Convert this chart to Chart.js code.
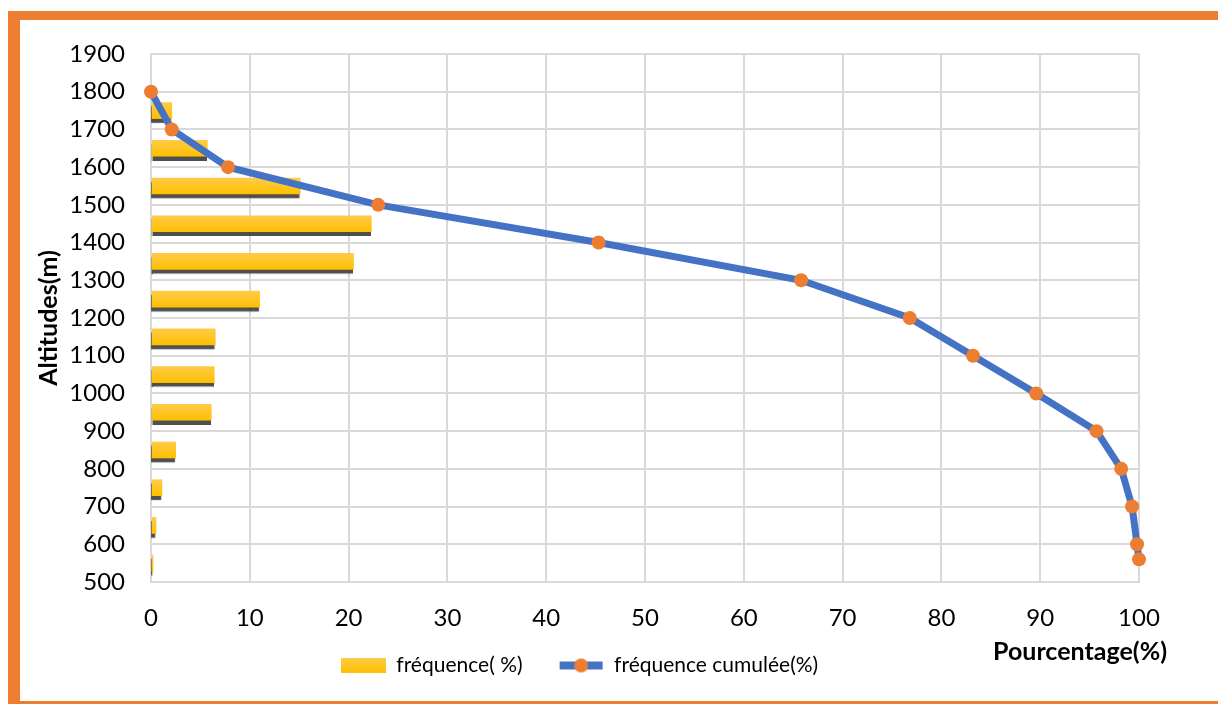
<!DOCTYPE html>
<html>
<head>
<meta charset="utf-8">
<title>Altitudes - fréquences</title>
<script src="https://cdn.jsdelivr.net/npm/chart.js@4.4.1/dist/chart.umd.min.js"></script>
<style>
  html, body { margin: 0; padding: 0; background: #ffffff; }
  #wrap { position: relative; width: 1218px; height: 704px; overflow: hidden; background: #ffffff; }
  .frame { position: absolute; background: #ED7D31; }
  #frameTop { left: 8px; top: 11px; width: 1210px; height: 9px; }
  #frameLeft { left: 8px; top: 11px; width: 12px; height: 693px; }
  #frameBottom { left: 8px; top: 701px; width: 1210px; height: 3px; }
  #box { position: absolute; left: 20px; top: 20px; width: 1198px; height: 681px; }
</style>
</head>
<body>
<div id="wrap">
  <div class="frame" id="frameTop"></div>
  <div class="frame" id="frameLeft"></div>
  <div class="frame" id="frameBottom"></div>
  <div id="box"><canvas id="chart" width="1198" height="681"></canvas></div>
</div>
<script>
// Tranches d'altitude (centre de chaque classe de 100 m) et fréquence (%)
const classAltitudes = [1750, 1650, 1550, 1450, 1350, 1250, 1150, 1050, 950, 850, 750, 650, 550];
const frequencies    = [2.1, 5.7, 15.1, 22.3, 20.5, 11.0, 6.5, 6.4, 6.1, 2.5, 1.1, 0.5, 0.2];

// Fréquence cumulée (%) aux limites de classe
const cumulAltitudes = [1800, 1700, 1600, 1500, 1400, 1300, 1200, 1100, 1000, 900, 800, 700, 600, 560];
const cumulValues    = [0, 2.1, 7.8, 23.0, 45.3, 65.8, 76.8, 83.2, 89.6, 95.7, 98.2, 99.3, 99.8, 100];

// Graduations
const altitudeTicks = [500, 600, 700, 800, 900, 1000, 1100, 1200, 1300, 1400, 1500, 1600, 1700, 1800, 1900];
const percentTicks  = [0, 10, 20, 30, 40, 50, 60, 70, 80, 90, 100];

const seriesLabels = ['fréquence( %)', 'fréquence cumulée(%)'];
const axisTitles = { x: 'Pourcentage(%)', y: 'Altitudes(m)' };

const FONT = 'Lato, Carlito, Calibri, "Open Sans", sans-serif';
const YELLOW_TOP = '#FFCB47';
const YELLOW_BOT = '#FFC000';
const BLUE = '#4472C4';
const ORANGE = '#ED7D31';
const GRID = '#D9D9D9';

// Legend symbols drawn on small canvases
function makeBarSymbol() {
  const c = document.createElement('canvas');
  c.width = 45; c.height = 15;
  const g = c.getContext('2d');
  const grad = g.createLinearGradient(0, 0, 0, 15);
  grad.addColorStop(0, YELLOW_TOP);
  grad.addColorStop(1, YELLOW_BOT);
  g.fillStyle = grad;
  g.fillRect(0, 0, 45, 15);
  return c;
}
function makeLineSymbol() {
  const c = document.createElement('canvas');
  c.width = 45; c.height = 16;
  const g = c.getContext('2d');
  g.fillStyle = BLUE;
  g.fillRect(1, 4, 43, 8);
  g.fillStyle = ORANGE;
  g.beginPath();
  g.arc(22.5, 8, 7, 0, Math.PI * 2);
  g.fill();
  return c;
}
const barSymbol = makeBarSymbol();
const lineSymbol = makeLineSymbol();

// Dark drop shadow under the frequency bars
const barShadow = {
  id: 'barShadow',
  beforeDatasetDraw(chart, args) {
    if (args.index !== 0) return;
    const ctx = chart.ctx;
    ctx.save();
    ctx.shadowColor = 'rgba(60,60,60,0.9)';
    ctx.shadowOffsetX = -1;
    ctx.shadowOffsetY = 4;
    ctx.shadowBlur = 1;
  },
  afterDatasetDraw(chart, args) {
    if (args.index !== 0) return;
    chart.ctx.restore();
  }
};

// X axis title placed under the tick labels, right side
const xTitle = {
  id: 'xTitle',
  afterDraw(chart) {
    const { ctx, chartArea } = chart;
    ctx.save();
    ctx.font = 'bold 25px ' + FONT;
    ctx.fillStyle = '#000000';
    ctx.textAlign = 'right';
    ctx.textBaseline = 'middle';
    ctx.fillText(axisTitles.x, chartArea.right + 28, chartArea.bottom + 70);
    ctx.restore();
  }
};

function barGradient(context) {
  const chart = context.chart;
  if (!chart.chartArea || !context.raw) return YELLOW_BOT;
  const yPix = chart.scales.y.getPixelForValue(context.raw.y);
  const grad = chart.ctx.createLinearGradient(0, yPix - 8, 0, yPix + 8);
  grad.addColorStop(0, YELLOW_TOP);
  grad.addColorStop(1, YELLOW_BOT);
  return grad;
}

const barData = classAltitudes.map((alt, i) => ({ x: frequencies[i], y: alt }));
const lineData = cumulAltitudes.map((alt, i) => ({ x: cumulValues[i], y: alt }));

new Chart(document.getElementById('chart'), {
  type: 'bar',
  data: {
    datasets: [
      {
        type: 'bar',
        label: seriesLabels[0],
        data: barData,
        backgroundColor: barGradient,
        borderWidth: 0,
        barThickness: 16,
        order: 2
      },
      {
        type: 'line',
        label: seriesLabels[1],
        data: lineData,
        borderColor: BLUE,
        borderWidth: 7,
        backgroundColor: ORANGE,
        pointBackgroundColor: ORANGE,
        pointBorderColor: ORANGE,
        pointBorderWidth: 0,
        pointRadius: 7,
        tension: 0,
        fill: false,
        clip: false,
        order: 1
      }
    ]
  },
  options: {
    indexAxis: 'y',
    responsive: false,
    animation: false,
    layout: { padding: { left: 0, right: 79, top: 34, bottom: 15 } },
    scales: {
      x: {
        type: 'linear',
        min: 0,
        max: 100,
        offset: false,
        afterBuildTicks: (scale) => { scale.ticks = percentTicks.map(v => ({ value: v })); },
        afterFit: (scale) => {
          scale.height = 37;
          // tick labels sit a little below the axis band; keep them unclipped
          scale._computeLabelArea = () => undefined;
        },
        grid: { color: GRID, lineWidth: 2, drawTicks: false, offset: false },
        border: { color: GRID, width: 2 },
        ticks: {
          color: '#000000', font: { family: FONT, size: 24 }, padding: 22, maxRotation: 0,
          callback: (v) => String(v)
        }
      },
      y: {
        type: 'linear',
        min: 500,
        max: 1900,
        offset: false,
        afterBuildTicks: (scale) => { scale.ticks = altitudeTicks.map(v => ({ value: v })); },
        afterFit: (scale) => { scale.width = 131; },
        grid: {
          color: GRID, lineWidth: 2, offset: false,
          drawTicks: true, tickLength: 20, tickColor: 'rgba(0,0,0,0)'
        },
        border: { color: GRID, width: 2 },
        ticks: {
          color: '#000000', font: { family: FONT, size: 24 }, padding: 6,
          callback: (v) => String(v)
        },
        title: {
          display: true,
          text: axisTitles.y,
          color: '#000000',
          font: { family: FONT, size: 25, weight: 'bold' },
          padding: { top: 14, bottom: 0 }
        }
      }
    },
    plugins: {
      tooltip: { enabled: false },
      legend: {
        position: 'bottom',
        labels: {
          usePointStyle: true,
          pointStyleWidth: 45,
          boxHeight: 15,
          padding: 36,
          color: '#000000',
          font: { family: FONT, size: 21 },
          generateLabels: (chart) => chart.data.datasets.map((ds, i) => ({
            text: ds.label,
            pointStyle: i === 0 ? barSymbol : lineSymbol,
            fillStyle: i === 0 ? YELLOW_BOT : BLUE,
            strokeStyle: 'rgba(0,0,0,0)',
            lineWidth: 0,
            hidden: false,
            datasetIndex: i,
            fontColor: '#000000'
          }))
        }
      }
    }
  },
  plugins: [barShadow, xTitle]
});
</script>
</body>
</html>
